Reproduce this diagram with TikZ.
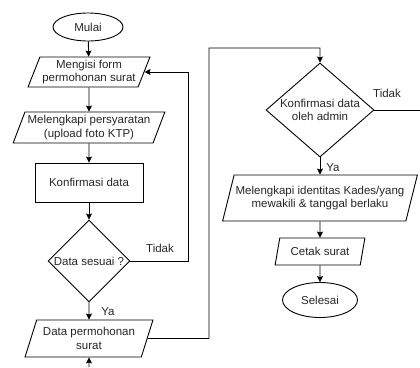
\documentclass[tikz,border=0pt]{standalone}
\usepackage{fontspec}
\setmainfont{Liberation Sans}
\usetikzlibrary{shapes.geometric,arrows.meta}
\begin{document}
\begin{tikzpicture}[x=1pt,y=-1pt,
  base/.style={draw=black,line width=0.9pt,align=center,inner sep=0pt,
    font=\fontsize{11.5}{13.5}\selectfont,text=black!85},
  term/.style={base,ellipse,minimum width=#1,minimum height=28pt},
  io/.style={base,trapezium,trapezium left angle=65,trapezium right angle=115,
    trapezium stretches=true},
  proc/.style={base,rectangle},
  dec/.style={base,diamond,aspect=1},
  conn/.style={line width=0.9pt,-{Stealth[length=6pt,width=6pt,inset=1pt]}},
  line/.style={line width=0.9pt},
  lbl/.style={font=\fontsize{11.5}{13.5}\selectfont,text=black!85,inner sep=0pt}]
\useasboundingbox (0,0) rectangle (420,367);
% left column
\node[term=70pt] (mulai) at (88,27) {Mulai};
\node[io,minimum width=122pt,minimum height=30pt] (b1) at (89,72) {Mengisi form\\permohonan surat};
\node[io,minimum width=152pt,minimum height=31pt] (b2) at (89,127.5) {Melengkapi persyaratan\\(upload foto KTP)};
\node[proc,minimum width=108pt,minimum height=39pt] (k1) at (89,182.5) {Konfirmasi data};
\node[dec,minimum width=82pt,minimum height=82pt] (d1) at (89,261) {Data sesuai ?};
\node[io,minimum width=128pt,minimum height=37pt] (b3) at (89,338.5) {Data permohonan\\surat};
\coordinate (bot) at (89,367);
% right column
\node[dec,minimum width=108pt,minimum height=94pt,aspect=1.15] (d2) at (320,110) {Konfirmasi data\\oleh admin};
\node[io,minimum width=195pt,minimum height=46pt] (b4) at (320,198) {Melengkapi identitas Kades/yang\\mewakili \& tanggal berlaku};
\node[io,minimum width=90pt,minimum height=27pt,trapezium left angle=68,trapezium right angle=112] (b5) at (320,251.5) {Cetak surat};
\node[term=75pt,minimum height=35pt] (selesai) at (320,300) {Selesai};
\coordinate (redge) at (420,110);
% labels
\node[lbl] (t1) at (160,248) {Tidak};
\node[lbl] (y1) at (108,312) {Ya};
\node[lbl] (t2) at (387,93) {Tidak};
\node[lbl] (y2) at (333,168) {Ya};
% connectors
\draw[conn] (mulai) -- (b1);
\draw[conn] (b1) -- (b2);
\draw[conn] (b2) -- (k1);
\draw[conn] (k1) -- (d1);
\draw[conn] (d1) -- (b3);
\draw[conn] (bot) -- (b3);
\coordinate (c1) at (188,261);
\draw[conn] (d1.east) -- (c1) |- (b1.east);
\coordinate (c2) at (209,338.5);
\coordinate (c3) at (209,48);
\draw[conn] (b3.east) -- (c2) -- (c3) -| (d2.north);
\draw[line] (d2.east) -- (redge);
\draw[conn] (d2) -- (b4);
\draw[conn] (b4) -- (b5);
\draw[conn] (b5) -- (selesai);
\end{tikzpicture}
\end{document}
